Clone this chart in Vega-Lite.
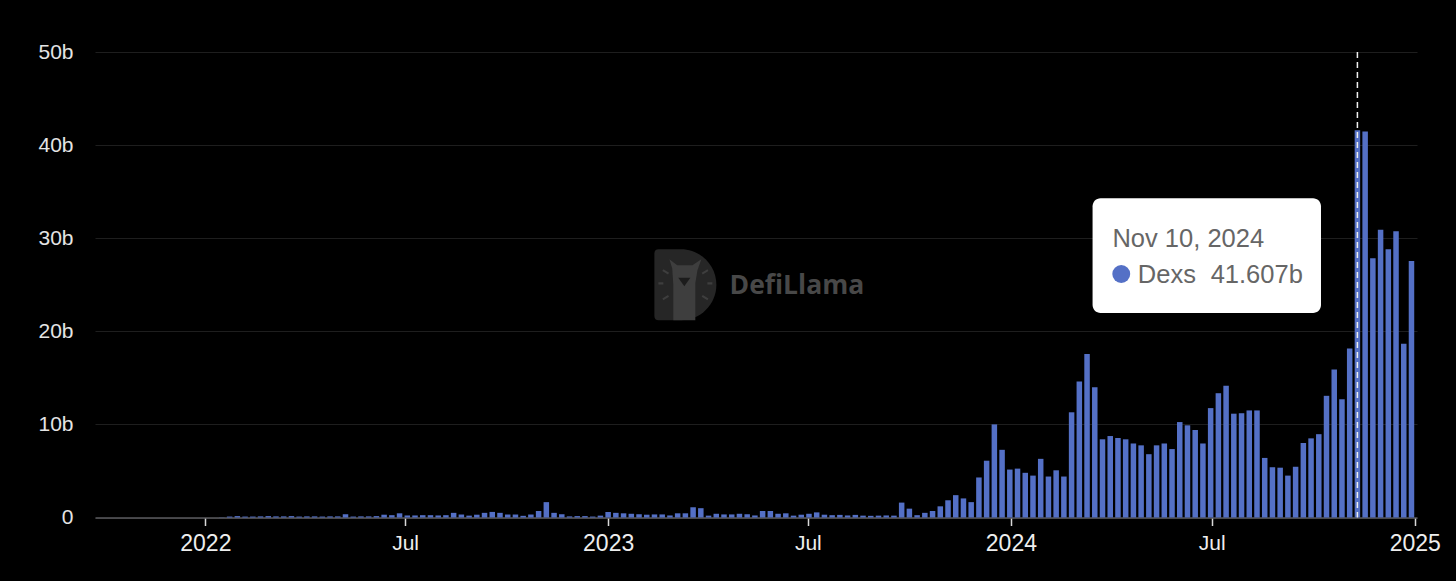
{"$schema":"https://vega.github.io/schema/vega-lite/v6.json","width":1322,"height":465.5,"autosize":{"type":"none"},"padding":{"left":95,"top":52,"right":39,"bottom":63.5},"background":"#000000","config":{"view":{"stroke":null},"font":"Liberation Sans"},
"datasets":{"bars":[
{"date":"2022-01-02","dexs":0},{"date":"2022-01-09","dexs":0},{"date":"2022-01-16","dexs":0.02},{"date":"2022-01-23","dexs":0.1},{"date":"2022-01-30","dexs":0.15},
{"date":"2022-02-06","dexs":0.1},{"date":"2022-02-13","dexs":0.1},{"date":"2022-02-20","dexs":0.12},{"date":"2022-02-27","dexs":0.15},
{"date":"2022-03-06","dexs":0.12},{"date":"2022-03-13","dexs":0.12},{"date":"2022-03-20","dexs":0.15},{"date":"2022-03-27","dexs":0.1},
{"date":"2022-04-03","dexs":0.12},{"date":"2022-04-10","dexs":0.12},{"date":"2022-04-17","dexs":0.1},{"date":"2022-04-24","dexs":0.12},
{"date":"2022-05-01","dexs":0.12},{"date":"2022-05-08","dexs":0.35},{"date":"2022-05-15","dexs":0.1},{"date":"2022-05-22","dexs":0.12},{"date":"2022-05-29","dexs":0.12},
{"date":"2022-06-05","dexs":0.15},{"date":"2022-06-12","dexs":0.3},{"date":"2022-06-19","dexs":0.25},{"date":"2022-06-26","dexs":0.45},
{"date":"2022-07-03","dexs":0.22},{"date":"2022-07-10","dexs":0.22},{"date":"2022-07-17","dexs":0.25},{"date":"2022-07-24","dexs":0.25},{"date":"2022-07-31","dexs":0.22},
{"date":"2022-08-07","dexs":0.25},{"date":"2022-08-14","dexs":0.5},{"date":"2022-08-21","dexs":0.32},{"date":"2022-08-28","dexs":0.2},
{"date":"2022-09-04","dexs":0.3},{"date":"2022-09-11","dexs":0.5},{"date":"2022-09-18","dexs":0.6},{"date":"2022-09-25","dexs":0.5},
{"date":"2022-10-02","dexs":0.32},{"date":"2022-10-09","dexs":0.32},{"date":"2022-10-16","dexs":0.18},{"date":"2022-10-23","dexs":0.32},{"date":"2022-10-30","dexs":0.7},
{"date":"2022-11-06","dexs":1.65},{"date":"2022-11-13","dexs":0.5},{"date":"2022-11-20","dexs":0.35},{"date":"2022-11-27","dexs":0.12},
{"date":"2022-12-04","dexs":0.15},{"date":"2022-12-11","dexs":0.15},{"date":"2022-12-18","dexs":0.1},{"date":"2022-12-25","dexs":0.2},
{"date":"2023-01-01","dexs":0.6},{"date":"2023-01-08","dexs":0.5},{"date":"2023-01-15","dexs":0.45},{"date":"2023-01-22","dexs":0.4},{"date":"2023-01-29","dexs":0.35},
{"date":"2023-02-05","dexs":0.3},{"date":"2023-02-12","dexs":0.33},{"date":"2023-02-19","dexs":0.33},{"date":"2023-02-26","dexs":0.22},
{"date":"2023-03-05","dexs":0.45},{"date":"2023-03-12","dexs":0.45},{"date":"2023-03-19","dexs":1.1},{"date":"2023-03-26","dexs":1.0},
{"date":"2023-04-02","dexs":0.2},{"date":"2023-04-09","dexs":0.4},{"date":"2023-04-16","dexs":0.33},{"date":"2023-04-23","dexs":0.33},{"date":"2023-04-30","dexs":0.4},
{"date":"2023-05-07","dexs":0.35},{"date":"2023-05-14","dexs":0.22},{"date":"2023-05-21","dexs":0.7},{"date":"2023-05-28","dexs":0.7},
{"date":"2023-06-04","dexs":0.4},{"date":"2023-06-11","dexs":0.45},{"date":"2023-06-18","dexs":0.2},{"date":"2023-06-25","dexs":0.3},
{"date":"2023-07-02","dexs":0.4},{"date":"2023-07-09","dexs":0.55},{"date":"2023-07-16","dexs":0.3},{"date":"2023-07-23","dexs":0.25},{"date":"2023-07-30","dexs":0.28},
{"date":"2023-08-06","dexs":0.22},{"date":"2023-08-13","dexs":0.28},{"date":"2023-08-20","dexs":0.2},{"date":"2023-08-27","dexs":0.18},
{"date":"2023-09-03","dexs":0.2},{"date":"2023-09-10","dexs":0.22},{"date":"2023-09-17","dexs":0.2},{"date":"2023-09-24","dexs":1.6},
{"date":"2023-10-01","dexs":0.95},{"date":"2023-10-08","dexs":0.25},{"date":"2023-10-15","dexs":0.5},{"date":"2023-10-22","dexs":0.7},{"date":"2023-10-29","dexs":1.2},
{"date":"2023-11-05","dexs":1.85},{"date":"2023-11-12","dexs":2.4},{"date":"2023-11-19","dexs":2.05},{"date":"2023-11-26","dexs":1.65},
{"date":"2023-12-03","dexs":4.3},{"date":"2023-12-10","dexs":6.1},{"date":"2023-12-17","dexs":10},{"date":"2023-12-24","dexs":7.27},{"date":"2023-12-31","dexs":5.15},
{"date":"2024-01-07","dexs":5.25},{"date":"2024-01-14","dexs":4.8},{"date":"2024-01-21","dexs":4.5},{"date":"2024-01-28","dexs":6.3},
{"date":"2024-02-04","dexs":4.4},{"date":"2024-02-11","dexs":5.07},{"date":"2024-02-18","dexs":4.4},{"date":"2024-02-25","dexs":11.3},
{"date":"2024-03-03","dexs":14.6},{"date":"2024-03-10","dexs":17.55},{"date":"2024-03-17","dexs":14},{"date":"2024-03-24","dexs":8.4},{"date":"2024-03-31","dexs":8.75},
{"date":"2024-04-07","dexs":8.55},{"date":"2024-04-14","dexs":8.4},{"date":"2024-04-21","dexs":7.95},{"date":"2024-04-28","dexs":7.75},
{"date":"2024-05-05","dexs":6.8},{"date":"2024-05-12","dexs":7.75},{"date":"2024-05-19","dexs":7.95},{"date":"2024-05-26","dexs":7.35},
{"date":"2024-06-02","dexs":10.25},{"date":"2024-06-09","dexs":9.9},{"date":"2024-06-16","dexs":9.4},{"date":"2024-06-23","dexs":7.95},{"date":"2024-06-30","dexs":11.75},
{"date":"2024-07-07","dexs":13.35},{"date":"2024-07-14","dexs":14.15},{"date":"2024-07-21","dexs":11.15},{"date":"2024-07-28","dexs":11.2},
{"date":"2024-08-04","dexs":11.5},{"date":"2024-08-11","dexs":11.5},{"date":"2024-08-18","dexs":6.4},{"date":"2024-08-25","dexs":5.4},
{"date":"2024-09-01","dexs":5.35},{"date":"2024-09-08","dexs":4.5},{"date":"2024-09-15","dexs":5.45},{"date":"2024-09-22","dexs":8},{"date":"2024-09-29","dexs":8.5},
{"date":"2024-10-06","dexs":8.95},{"date":"2024-10-13","dexs":13.07},{"date":"2024-10-20","dexs":15.9},{"date":"2024-10-27","dexs":12.7},
{"date":"2024-11-03","dexs":18.15},{"date":"2024-11-10","dexs":41.607},{"date":"2024-11-17","dexs":41.45},{"date":"2024-11-24","dexs":27.85},
{"date":"2024-12-01","dexs":30.9},{"date":"2024-12-08","dexs":28.8},{"date":"2024-12-15","dexs":30.75},{"date":"2024-12-22","dexs":18.65},{"date":"2024-12-29","dexs":27.55}
]},
"encoding":{
"x":{"field":"date","type":"temporal","title":null,"scale":{"type":"utc","nice":false,"padding":0,"domain":["2021-09-23","2025-01-03"]},"axis":{"values":["2022-01-01","2022-07-01","2023-01-01","2023-07-01","2024-01-01","2024-07-01","2025-01-01"],"labelExpr":"utcmonth(datum.value)==0 ? utcFormat(datum.value,'%Y') : 'Jul'","labelFontSize":{"condition":{"test":"utcmonth(datum.value)==0","value":23},"value":21},"labelColor":"#eeeeee","labelPadding":7,"labelOverlap":false,"labelFlush":false,"domainColor":"#5a5a5e","domainWidth":1.5,"tickColor":"#d8d8d8","tickWidth":1.5,"tickSize":8,"grid":false}},
"y":{"field":"dexs","type":"quantitative","title":null,"scale":{"domain":[0,50],"nice":false},"axis":{"values":[0,10,20,30,40,50],"labelExpr":"datum.value==0 ? '0' : datum.value+'b'","labelFontSize":21,"labelColor":"#e4e4e4","labelPadding":22,"tickSize":0,"domain":false,"grid":true,"gridColor":"#1e1e1e","gridWidth":1}}
},
"layer":[
{"data":{"values":[{"date":"2023-03-12","dexs":25}]},"mark":{"type":"point","filled":true,"opacity":1,"size":5041,"fill":"#262626","stroke":null,"shape":"M-0.75,-1 L-0.127,-1 A1,1 0 0 1 -0.127,1 L-0.75,1 Q-0.873,1 -0.873,0.88 L-0.873,-0.88 Q-0.873,-1 -0.75,-1Z"}},
{"data":{"values":[{"date":"2023-03-12","dexs":25}]},"mark":{"type":"point","filled":true,"opacity":1,"size":5041,"fill":"#3e3e3e","stroke":null,"shape":"M-0.34,1 L-0.34,0 L-0.37,-0.46 L-0.45,-0.72 L-0.23,-0.55 L0.2,-0.55 L0.45,-0.72 L0.34,-0.41 L0.28,-0.04 L0.28,1Z M-0.76,-0.07 L-0.62,-0.07 L-0.62,-0.01 L-0.76,-0.01Z M0.62,-0.07 L0.76,-0.07 L0.76,-0.01 L0.62,-0.01Z M-0.62,-0.44 L-0.46,-0.34 L-0.49,-0.29 L-0.65,-0.39Z M0.62,-0.44 L0.65,-0.39 L0.49,-0.29 L0.46,-0.34Z M-0.62,0.44 L-0.65,0.39 L-0.49,0.29 L-0.46,0.34Z M0.62,0.44 L0.46,0.34 L0.49,0.29 L0.65,0.39Z"}},
{"data":{"values":[{"date":"2023-03-12","dexs":25}]},"mark":{"type":"point","filled":true,"opacity":1,"size":5041,"fill":"#1c1c1c","stroke":null,"shape":"M-0.2,-0.2 L0.14,-0.2 L-0.03,0.04Z"}},
{"data":{"values":[{"date":"2023-04-21","dexs":24.86,"label":"DefiLlama"}]},"mark":{"type":"text","align":"left","baseline":"middle","font":"Open Sans","fontSize":26.5,"fontWeight":"bold","color":"#484848"},"encoding":{"text":{"field":"label"}}},
{"data":{"name":"bars"},"mark":{"type":"bar","size":5.5,"color":"#5470c6"}},
{"data":{"values":[{"date":"2024-11-10"}]},"mark":{"type":"rule","color":"#f0f0f0","strokeWidth":1.5,"strokeDash":[6,4]},"encoding":{"y":{"value":0},"y2":{"value":465.5}}},
{"data":{"values":[{"date":"2024-03-15","date2":"2024-10-08","top":34.3,"bottom":21.97}]},"mark":{"type":"rect","color":"#ffffff","cornerRadius":8},"encoding":{"x2":{"field":"date2"},"y":{"field":"top","type":"quantitative"},"y2":{"field":"bottom"}}},
{"data":{"values":[{"date":"2024-04-10","dexs":26.15}]},"mark":{"type":"point","filled":true,"opacity":1,"size":320,"color":"#5470c6"}},
{"data":{"values":[{"date":"2024-04-02","dexs":29.9,"label":"Nov 10, 2024"},{"date":"2024-04-25","dexs":26.05,"label":"Dexs"},{"date":"2024-06-30","dexs":26.05,"label":"41.607b"}]},"mark":{"type":"text","align":"left","baseline":"middle","fontSize":25.5,"color":"#666666"},"encoding":{"text":{"field":"label"}}}
]}
